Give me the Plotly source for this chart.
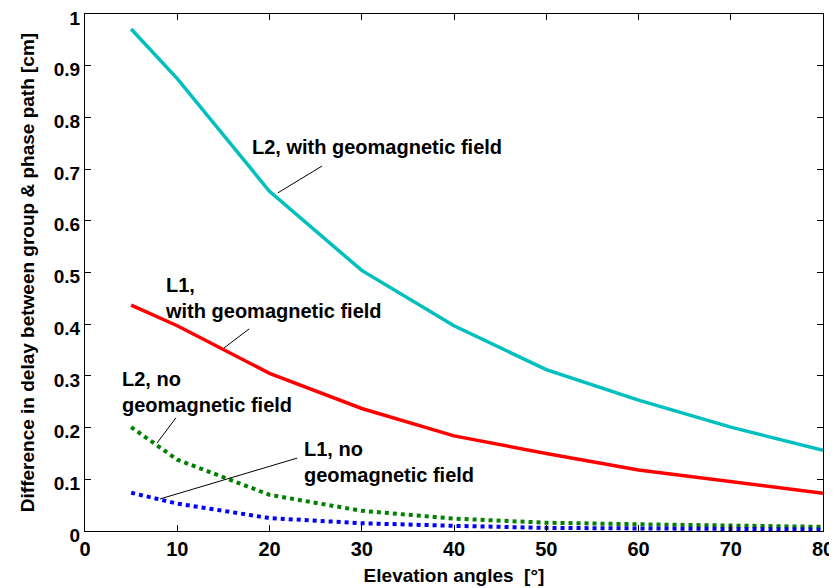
import plotly.graph_objects as go

elev = [5, 10, 20, 30, 40, 50, 60, 70, 80]
l2_geo = [0.971, 0.875, 0.657, 0.504, 0.397, 0.312, 0.253, 0.201, 0.156]
l1_geo = [0.437, 0.397, 0.305, 0.237, 0.184, 0.150, 0.118, 0.095, 0.073]
l2_nogeo = [0.201, 0.138, 0.070, 0.039, 0.024, 0.016, 0.013, 0.010, 0.008]
l1_nogeo = [0.074, 0.053, 0.025, 0.015, 0.010, 0.006, 0.005, 0.004, 0.003]

x_ticks = [0, 10, 20, 30, 40, 50, 60, 70, 80]
y_ticks = [0, 0.1, 0.2, 0.3, 0.4, 0.5, 0.6, 0.7, 0.8, 0.9, 1]

FONT = "Arial, Liberation Sans, sans-serif"

fig = go.Figure()
fig.add_trace(go.Scatter(x=elev, y=l2_geo, mode="lines",
                         line=dict(color="#00BFBF", width=3.5)))
fig.add_trace(go.Scatter(x=elev, y=l1_geo, mode="lines",
                         line=dict(color="#FF0000", width=3.5)))
fig.add_trace(go.Scatter(x=elev, y=l2_nogeo, mode="lines",
                         line=dict(color="#008000", width=4, dash="dot")))
fig.add_trace(go.Scatter(x=elev, y=l1_nogeo, mode="lines",
                         line=dict(color="#0000FF", width=4, dash="dot")))

labels = [
    ("<b>L2, with geomagnetic field</b>", 17.9, 0.743),
    ("<b>L1,<br>with geomagnetic field</b>", 8.46, 0.45),
    ("<b>L2, no<br>geomagnetic field</b>", 3.8, 0.269),
    ("<b>L1, no<br>geomagnetic field</b>", 23.5, 0.133),
]
for txt, lx, ly in labels:
    fig.add_annotation(x=lx, y=ly, text=txt, showarrow=False, xanchor="left",
                       yanchor="middle", align="left",
                       font=dict(family=FONT, size=20, color="black"))

leaders = [
    (25.7, 0.706, 20.9, 0.654),
    (17.8, 0.391, 15.07, 0.354),
    (9.86, 0.219, 7.8, 0.170),
    (23.0, 0.141, 8.13, 0.062),
]
for x0, y0, x1, y1 in leaders:
    fig.add_shape(type="line", x0=x0, y0=y0, x1=x1, y1=y1, xref="x", yref="y",
                  line=dict(color="black", width=1))

axis_common = dict(showgrid=False, zeroline=False, showline=True, linecolor="black",
                   linewidth=1, mirror="ticks", ticks="inside", ticklen=6,
                   tickcolor="black", ticklabeloverflow="allow")

fig.update_xaxes(range=[0, 80], tickvals=x_ticks,
                 ticktext=[f"<b>{v}</b>" for v in x_ticks],
                 tickfont=dict(family=FONT, size=20, color="black"),
                 title=dict(text="<b>Elevation angles &nbsp;[°]</b>",
                            font=dict(family=FONT, size=19, color="black"), standoff=9),
                 **axis_common)
fig.update_yaxes(range=[0, 1], tickvals=y_ticks,
                 ticktext=[f"<b>{v:g}</b>" for v in y_ticks],
                 tickfont=dict(family=FONT, size=19, color="black"),
                 ticklabelshift=4,
                 title=dict(text="<b>Difference in delay between group &amp; phase path [cm]</b>",
                            font=dict(family=FONT, size=19, color="black"), standoff=14),
                 **axis_common)

fig.update_layout(width=829, height=580, showlegend=False,
                  margin=dict(l=77, r=14, t=6, b=57, autoexpand=False),
                  plot_bgcolor="white", paper_bgcolor="white")

fig.write_html("out.html")
